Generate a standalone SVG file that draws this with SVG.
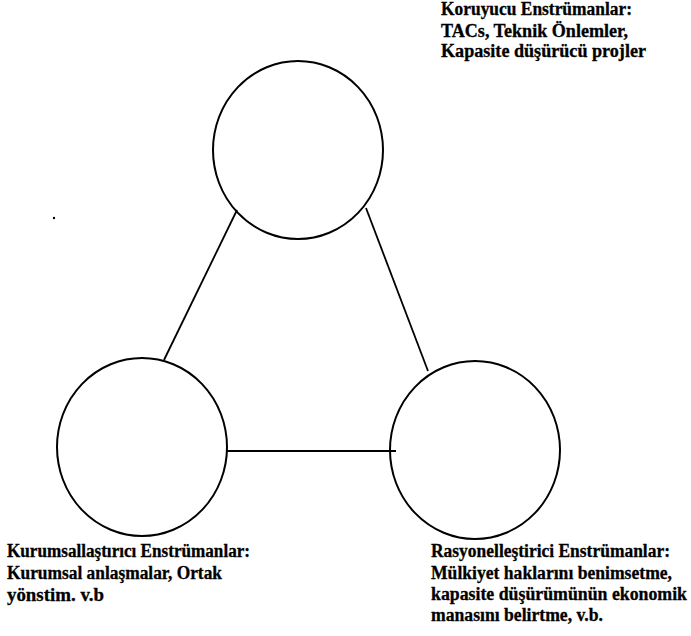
<svg xmlns="http://www.w3.org/2000/svg" width="691" height="636" viewBox="0 0 691 636">
<style>
.n{fill:none;stroke:#000;stroke-width:2}
.c{stroke:#000;stroke-width:1.8;fill:none}
text{font-family:"Liberation Serif","Times New Roman",serif;font-weight:bold;font-size:18px;fill:#000;stroke:#000;stroke-width:0.3}
</style>
<rect width="691" height="636" fill="#fff"/>
<g id="connectors">
<line class="c" x1="237" y1="210" x2="164" y2="360"/>
<line class="c" x1="366" y1="208" x2="428" y2="371"/>
<line class="c" x1="227" y1="451" x2="396" y2="451"/>
</g>
<g id="node-koruyucu">
<ellipse class="n" cx="298" cy="150" rx="85" ry="89"/>
<text x="441" y="15" textLength="191" lengthAdjust="spacingAndGlyphs">Koruyucu Enstrümanlar:</text>
<text x="441" y="36.5" textLength="187" lengthAdjust="spacingAndGlyphs">TACs, Teknik Önlemler,</text>
<text x="441" y="57" textLength="205" lengthAdjust="spacingAndGlyphs">Kapasite düşürücü projler</text>
</g>
<g id="node-kurumsallastirici">
<ellipse class="n" cx="142" cy="447" rx="85" ry="89"/>
<text x="7" y="557" textLength="243" lengthAdjust="spacingAndGlyphs">Kurumsallaştırıcı Enstrümanlar:</text>
<text x="7" y="579" textLength="215" lengthAdjust="spacingAndGlyphs">Kurumsal anlaşmalar, Ortak</text>
<text x="7" y="601" textLength="97" lengthAdjust="spacingAndGlyphs">yönstim. v.b</text>
</g>
<g id="node-rasyonellestirici">
<ellipse class="n" cx="475" cy="450" rx="85" ry="89"/>
<text x="431" y="557" textLength="239" lengthAdjust="spacingAndGlyphs">Rasyonelleştirici Enstrümanlar:</text>
<text x="431" y="579" textLength="241" lengthAdjust="spacingAndGlyphs">Mülkiyet haklarını benimsetme,</text>
<text x="431" y="600" textLength="256" lengthAdjust="spacingAndGlyphs">kapasite düşürümünün ekonomik</text>
<text x="431" y="621" textLength="172" lengthAdjust="spacingAndGlyphs">manasını belirtme, v.b.</text>
</g>
<circle cx="54" cy="218" r="1.2" fill="#000"/>
</svg>
